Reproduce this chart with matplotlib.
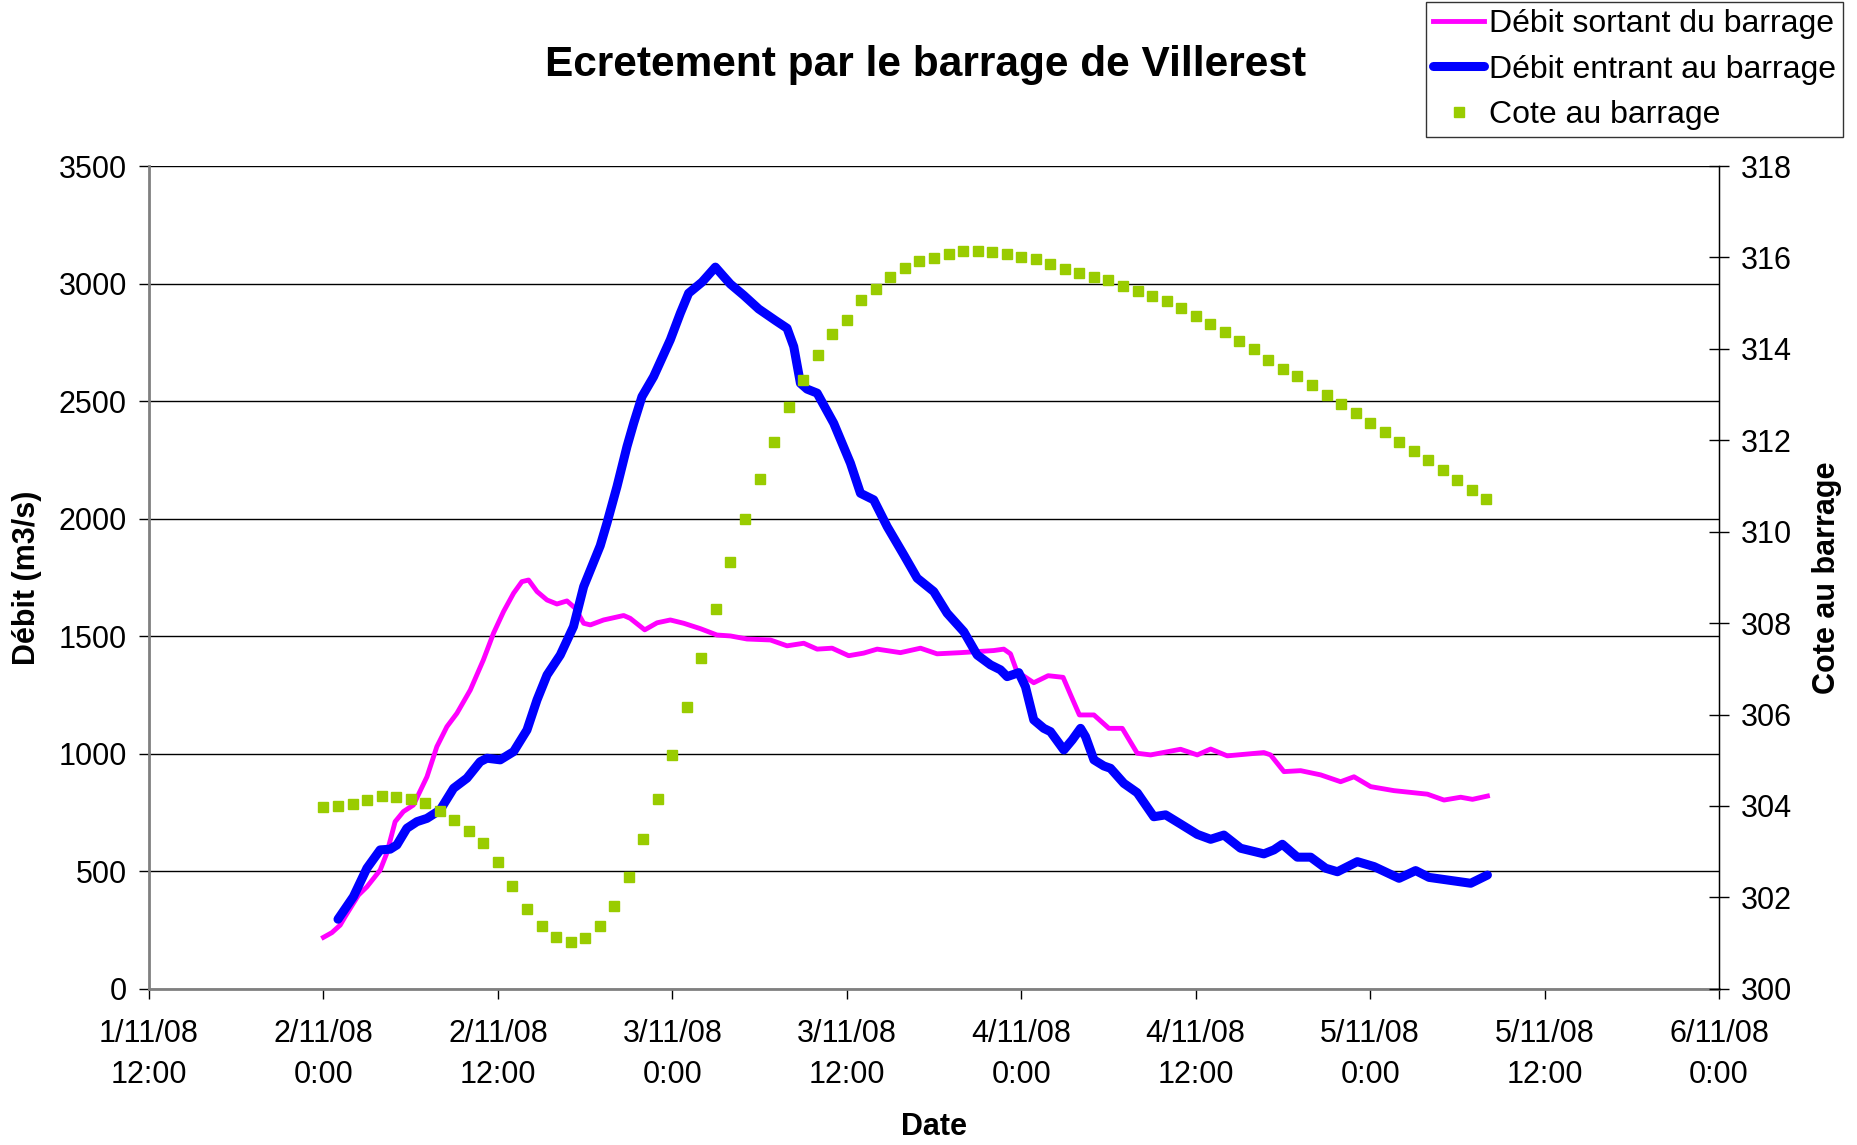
import numpy as np
import pandas as pd
import matplotlib
matplotlib.use("Agg")
import matplotlib.pyplot as plt
import matplotlib.dates as mdates
from matplotlib.ticker import FuncFormatter

plt.rcParams['font.family'] = ['Liberation Sans', 'DejaVu Sans']

# données (heures depuis le 2/11/08 0:00)
t0 = pd.Timestamp('2008-11-02 00:00')

sortant_h = [0, 0.58, 1.15, 1.49, 2.41, 2.99, 3.9, 4.36, 4.93, 5.5, 6.19, 7.12, 7.8, 8.49,
             9.18, 10.1, 11.0, 11.7, 12.39, 13.08, 13.65, 14.11, 14.69, 15.38, 16.06, 16.75,
             17.32, 17.9, 18.36, 19.27, 20.65, 21.1, 22.1, 22.95, 23.86, 24.78, 25.93, 27.07,
             28.0, 29.14, 30.74, 31.89, 33.04, 33.96, 34.99, 36.13, 37.16, 38.09, 39.69, 41.07,
             42.21, 43.82, 46.11, 46.8, 47.26, 47.7, 48.86, 49.85, 50.88, 51.4, 52.0, 53.0,
             54.03, 54.95, 55.98, 56.9, 58.96, 60.11, 61.03, 62.17, 64.69, 65.15, 66.07, 67.22,
             68.6, 69.97, 70.89, 72.04, 73.64, 75.94, 77.08, 78.23, 79.04, 80.07]
sortant_q = [219, 239, 271, 307, 399, 434, 505, 577, 711, 754, 782, 902, 1030, 1115,
             1172, 1271, 1399, 1513, 1605, 1683, 1732, 1739, 1690, 1654, 1637, 1650,
             1619, 1555, 1548, 1569, 1588, 1576, 1527, 1557, 1569, 1555, 1532, 1505,
             1501, 1488, 1484, 1459, 1470, 1445, 1449, 1417, 1428, 1445, 1430, 1449,
             1425, 1430, 1439, 1445, 1425, 1350, 1302, 1332, 1325, 1250, 1165, 1165,
             1108, 1108, 1002, 995, 1019, 995, 1020, 991, 1005, 995, 924, 928,
             910, 881, 902, 860, 843, 828, 803, 815, 806, 820]

entrant_h = [1.0, 2.06, 2.99, 3.9, 4.59, 5.05, 5.74, 6.43, 7.12, 8.03, 8.95, 9.87, 10.78,
             11.25, 12.16, 13.08, 14.0, 14.69, 15.38, 16.29, 17.2, 17.9, 19.04, 19.5, 20.19,
             20.88, 21.34, 21.91, 22.71, 23.86, 24.55, 25.12, 26.04, 26.96, 27.53, 27.99,
             28.91, 29.94, 31.09, 31.89, 32.35, 32.81, 33.27, 33.96, 35.1, 36.25, 36.94,
             37.85, 38.78, 39.92, 40.84, 41.98, 42.9, 44.05, 44.97, 45.89, 46.57, 47.03,
             47.83, 48.29, 48.86, 49.55, 50.01, 50.93, 51.51, 52.08, 52.42, 53.0, 53.68,
             54.14, 55.06, 55.98, 57.12, 57.93, 58.96, 60.11, 61.03, 61.94, 63.09, 64.69,
             65.38, 65.96, 66.99, 67.91, 68.94, 69.75, 71.12, 72.27, 73.99, 75.13, 76.05,
             77.77, 78.92, 80.07]
entrant_q = [296, 392, 513, 591, 594, 612, 683, 711, 725, 761, 853, 896, 966,
             981, 974, 1009, 1101, 1229, 1335, 1420, 1541, 1711, 1885, 1981, 2136,
             2307, 2406, 2519, 2604, 2761, 2874, 2959, 3006, 3070, 3030, 2998,
             2950, 2892, 2843, 2810, 2732, 2576, 2551, 2534, 2406, 2236, 2108,
             2080, 1966, 1846, 1747, 1690, 1598, 1519, 1420, 1378, 1357, 1328,
             1345, 1285, 1144, 1108, 1094, 1016, 1059, 1108, 1073, 974, 948,
             938, 874, 834, 732, 740, 701, 657, 636, 654, 598, 574,
             591, 615, 560, 560, 513, 498, 541, 520, 470, 503, 474,
             459, 449, 484]

# cote horaire à partir du 2/11/08 0:00
cote = [303.97, 304.01, 304.05, 304.13, 304.22, 304.20, 304.16, 304.07, 303.90, 303.70,
        303.46, 303.18, 302.77, 302.26, 301.75, 301.37, 301.13, 301.02, 301.11, 301.38,
        301.81, 302.45, 303.27, 304.15, 305.12, 306.17, 307.23, 308.32, 309.33, 310.27,
        311.15, 311.97, 312.72, 313.32, 313.87, 314.33, 314.64, 315.07, 315.32, 315.57,
        315.78, 315.92, 315.99, 316.08, 316.14, 316.14, 316.11, 316.07, 316.02, 315.96,
        315.86, 315.75, 315.66, 315.57, 315.50, 315.37, 315.26, 315.16, 315.05, 314.90,
        314.72, 314.55, 314.37, 314.18, 313.99, 313.76, 313.57, 313.40, 313.21, 313.00,
        312.79, 312.59, 312.38, 312.19, 311.97, 311.76, 311.56, 311.35, 311.13, 310.92,
        310.71]

t_sortant = t0 + pd.to_timedelta(sortant_h, unit='h')
t_entrant = t0 + pd.to_timedelta(entrant_h, unit='h')
t_cote = pd.date_range(t0, periods=len(cote), freq='h')

fig = plt.figure(figsize=(18.58, 11.45), dpi=100)
ax = fig.add_axes([0.0802, 0.1364, 0.8450, 0.7186])
ax2 = ax.twinx()

l1, = ax.plot(t_sortant, sortant_q, color='#FF00FF', lw=3.5, label='Débit sortant du barrage',
              zorder=3, solid_joinstyle='round')
l2, = ax.plot(t_entrant, entrant_q, color='#0000FF', lw=6.5, label='Débit entrant au barrage',
              zorder=4, solid_capstyle='round', solid_joinstyle='round')
l3, = ax2.plot(t_cote, cote, ls='none', marker='s', ms=7.5, color='#99CC00',
               markeredgecolor='#99CC00', label='Cote au barrage')

ax.set_xlim(pd.Timestamp('2008-11-01 12:00'), pd.Timestamp('2008-11-06 00:00'))
ax.set_ylim(0, 3500)
ax2.set_ylim(300, 318)
ax.set_yticks(np.arange(0, 3501, 500))
ax2.set_yticks(np.arange(300, 319, 2))
ax.set_xticks(pd.date_range('2008-11-01 12:00', '2008-11-06 00:00', freq='12h'))

def fmt_date(x, pos):
    d = mdates.num2date(x)
    return f"{d.day}/{d.month}/{d:%y}\n{d.hour}:{d:%M}"

ax.xaxis.set_major_formatter(FuncFormatter(fmt_date))

ax.yaxis.grid(True, color='black', lw=1.0)
ax.set_axisbelow(True)

for a in (ax, ax2):
    a.spines['top'].set_visible(False)
ax.spines['left'].set_color('#808080')
ax.spines['left'].set_linewidth(2)
ax.spines['bottom'].set_color('#808080')
ax.spines['bottom'].set_linewidth(2)
ax2.spines['left'].set_visible(False)
ax2.spines['bottom'].set_visible(False)
ax2.spines['right'].set_color('black')
ax2.spines['right'].set_linewidth(1)

ax.tick_params(axis='y', direction='out', length=7, width=1, pad=9, labelsize=22)
ax.tick_params(axis='x', direction='out', length=7, width=1, pad=15, labelsize=22)
ax2.tick_params(axis='y', direction='inout', length=14, width=1, pad=9, labelsize=22)
for lab in ax.get_xticklabels():
    lab.set_linespacing(1.45)

ax.set_ylabel('Débit (m3/s)', fontsize=22, fontweight='bold', va='center')
ax.yaxis.set_label_coords(-0.078, 0.5)
ax2.set_ylabel('Cote au barrage', fontsize=22, fontweight='bold', va='center')
ax2.yaxis.set_label_coords(1.069, 0.5)
ax.set_xlabel('Date', fontsize=22, fontweight='bold', va='center')
ax.xaxis.set_label_coords(0.5, -0.168)

fig.text(0.498, 0.943, 'Ecretement par le barrage de Villerest', fontsize=30.5,
         fontweight='bold', ha='center', va='center')

leg = fig.legend(handles=[l1, l2, l3], loc='upper right', bbox_to_anchor=(0.992, 0.998),
                 fontsize=23, frameon=True, fancybox=False, shadow=False,
                 handlelength=1.6, handletextpad=0.15, labelspacing=0.48,
                 borderpad=0.22, borderaxespad=0, markerscale=1.0)
leg.get_frame().set_edgecolor('black')
leg.get_frame().set_linewidth(1)

fig.savefig('out.png', dpi=100)
